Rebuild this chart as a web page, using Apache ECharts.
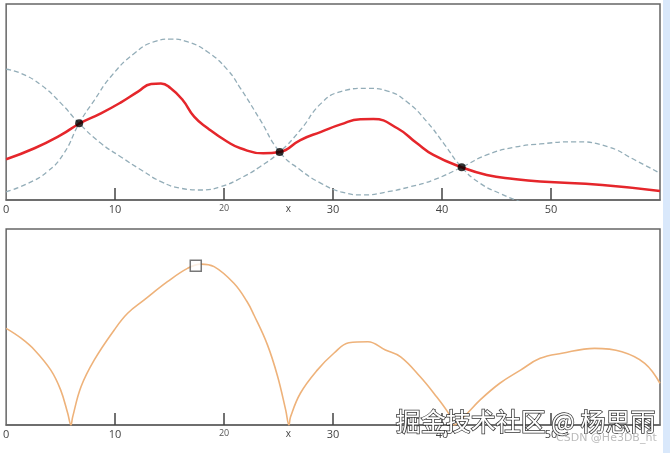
<!DOCTYPE html>
<html>
<head>
<meta charset="utf-8">
<script src="https://cdn.jsdelivr.net/npm/echarts@6/dist/echarts.min.js"></script>
<style>
html,body{margin:0;padding:0;background:#fff;}
#c{width:670px;height:453px;}
</style>
</head>
<body>
<div id="c"></div>
<script>
// ---- data (y in arbitrary units 0..100) ----
const tickValues = [10, 20, 30, 40, 50];
const labelValues = [0, 10, 20, 25.9, 30, 40, 50];
const labelText = {0: '0', 10: '10', 20: '20', 25.9: 'x', 30: '30', 40: '40', 50: '50'};

// dashed wave 1
const waveAx = [0, 1.37, 3.2, 5.04, 6.7, 8.7, 10.5, 12.4, 14.2, 16, 17.9, 19.7, 21.5, 23.3, 25.1, 27, 28.9, 30.7, 33.1, 35, 36.8, 38.6, 40.15, 41.8, 43.5, 45.3, 47.2, 49];
const waveAy = [66.7, 64.6, 58.7, 49.3, 39.1, 28.9, 22.1, 15.3, 9.4, 6, 5.1, 6.8, 11.1, 17, 24.5, 35.7, 49.3, 55.3, 57, 55.6, 50, 40, 28.9, 16.7, 8.5, 3.4, -0.9, -4];

// dashed wave 2
const waveBx = [0, 2, 3.8, 5.3, 6.7, 8.1, 9.6, 11.75, 13.6, 15.1, 16.6, 18.5, 20.3, 21.5, 23.3, 25.1, 27, 28.9, 30.7, 32.8, 35, 37.1, 39.2, 41.8, 44.1, 46.6, 49, 52.2, 55.2, 57.7, 60];
const waveBy = [4.2, 8.5, 14.5, 23.8, 39.1, 51, 62.9, 74.8, 80.8, 82.1, 80.8, 75.5, 66.5, 57, 41, 24.5, 15.3, 8.5, 4.2, 2.6, 4.2, 6.8, 10.2, 16.7, 23, 26.9, 28.6, 29.7, 27.2, 20.4, 13.6];

// red resulting curve
const sumX = [0, 2.6, 5.04, 6.7, 8.7, 10.5, 12.1, 13.3, 14.2, 15.1, 16.2, 17.25, 18.5, 20.3, 21.5, 23.6, 25.1, 27, 28.9, 30.7, 32.5, 33.7, 35.9, 37.7, 39.2, 41.8, 44.1, 46.6, 49, 54.7, 60];
const sumY = [20.8, 26.4, 33.2, 38.9, 44.2, 49.7, 55.3, 59.2, 59.5, 57, 51, 42.5, 36.6, 29.7, 26.4, 23.8, 24.5, 30.6, 34.8, 38.6, 41.2, 41.3, 36.6, 28.9, 23, 16.7, 12.8, 10.7, 9.4, 7.7, 4.6];

// intersection dots
const crossX = [6.7, 25.1, 41.8];
const crossY = [39.1, 24.5, 16.7];

// lower panel orange curve
const absX = [0, 1.37, 2.6, 4.1, 5.0, 5.65, 5.95, 6.1, 6.87, 8.09, 9.92, 11.15, 12.67, 14.8, 16.64, 17.86, 19.08, 20.9, 22.1, 22.75, 23.97, 24.9, 25.65, 25.95, 26.1, 27.0, 28.55, 30.07, 31.45, 33.2, 34.8, 36.2, 38, 39.5, 40.5, 40.9, 41.1, 42, 43.5, 45.3, 47.2, 49, 51, 54, 56.5, 58.6, 60];
const absY = [49.3, 44.3, 38.3, 28, 17.9, 6, 0, 4, 19.5, 33.2, 48.5, 57, 63.8, 73.1, 79.9, 82.1, 80.8, 72.3, 63, 56, 41, 25, 7.7, 0, 4.2, 16.2, 28, 36.6, 42, 42.5, 38.3, 34.8, 24.6, 14.4, 6.8, 2.6, 0, 4.2, 12.8, 21.3, 28, 34, 36.6, 39.1, 37.4, 31.5, 21.3];

// open square marker at the maximum
const peakX = [17.4];
const peakY = [81.3];

const zip = (xs, ys) => xs.map((x, i) => [x, ys[i]]);

const chart = echarts.init(document.getElementById('c'), null, {renderer: 'canvas'});

function xAxisCfg(gridIndex) {
  return {
    type: 'value', gridIndex, min: 0, max: 60,
    splitLine: {show: false},
    axisLine: {show: true, lineStyle: {color: '#666', width: 1.5}},
    axisTick: {show: true, inside: true, length: 12, customValues: tickValues,
      lineStyle: {color: '#444', width: 1.5}},
    axisLabel: {
      show: true, customValues: labelValues, margin: 4,
      color: '#444', fontSize: 11, fontFamily: 'Open Sans',
      formatter: v => {
        const t = labelText[v] !== undefined ? labelText[v] : '';
        if (t === '20') return '{s|20}';
        if (t === 'x') return '{x|x}';
        return t;
      },
      rich: {
        s: {fontSize: 9, color: '#555', fontFamily: 'Open Sans'},
        x: {fontSize: 10, color: '#444', fontFamily: 'Open Sans'}
      }
    }
  };
}
function yAxisCfg(gridIndex) {
  return {type: 'value', gridIndex, min: 0, max: 100, show: false, splitLine: {show: false}};
}

chart.setOption({
  animation: false,
  backgroundColor: '#fff',
  grid: [
    {left: 5, top: 4, width: 655, height: 196, show: true, borderColor: '#666', borderWidth: 1.5},
    {left: 5, top: 229, width: 655, height: 196, show: true, borderColor: '#666', borderWidth: 1.5}
  ],
  xAxis: [xAxisCfg(0), xAxisCfg(1)],
  yAxis: [yAxisCfg(0), yAxisCfg(1)],
  series: [
    {type: 'line', xAxisIndex: 0, yAxisIndex: 0, data: zip(waveAx, waveAy), smooth: 0.5,
      showSymbol: false, lineStyle: {color: '#93adb8', width: 1.3, type: [5, 3]}, clip: true},
    {type: 'line', xAxisIndex: 0, yAxisIndex: 0, data: zip(waveBx, waveBy), smooth: 0.5,
      showSymbol: false, lineStyle: {color: '#93adb8', width: 1.3, type: [5, 3]}, clip: true},
    {type: 'line', xAxisIndex: 0, yAxisIndex: 0, data: zip(sumX, sumY), smooth: 0.5,
      showSymbol: false, lineStyle: {color: '#e5262b', width: 2.5}, z: 3},
    {type: 'scatter', xAxisIndex: 0, yAxisIndex: 0, data: zip(crossX, crossY),
      symbolSize: 8, itemStyle: {color: '#000'}, z: 5},
    {type: 'line', xAxisIndex: 1, yAxisIndex: 1, data: zip(absX, absY), smooth: 0.4,
      showSymbol: false, lineStyle: {color: '#eeb27a', width: 1.6}, clip: true},
    {type: 'scatter', xAxisIndex: 1, yAxisIndex: 1, data: zip(peakX, peakY), symbol: 'rect',
      symbolSize: 11, itemStyle: {color: '#fff', borderColor: '#555', borderWidth: 1.5}, z: 5}
  ],
  graphic: [
    {type: 'rect', shape: {x: 663, y: 0, width: 7, height: 453}, style: {fill: '#d9e8fb'}, z: 100},
    {type: 'text', left: 395, top: 408, z: 110,
      style: {text: '掘金技术社区 @ 杨思雨', font: '25px "Noto Sans CJK SC"', fill: '#ffffff',
        stroke: '#333', lineWidth: 1.5}},
    {type: 'text', left: 556, top: 433, z: 110,
      style: {text: 'CSDN @He3DB_ht', font: '11px "DejaVu Sans"', fill: '#bbbbbb'}}
  ]
});
</script>
</body>
</html>
